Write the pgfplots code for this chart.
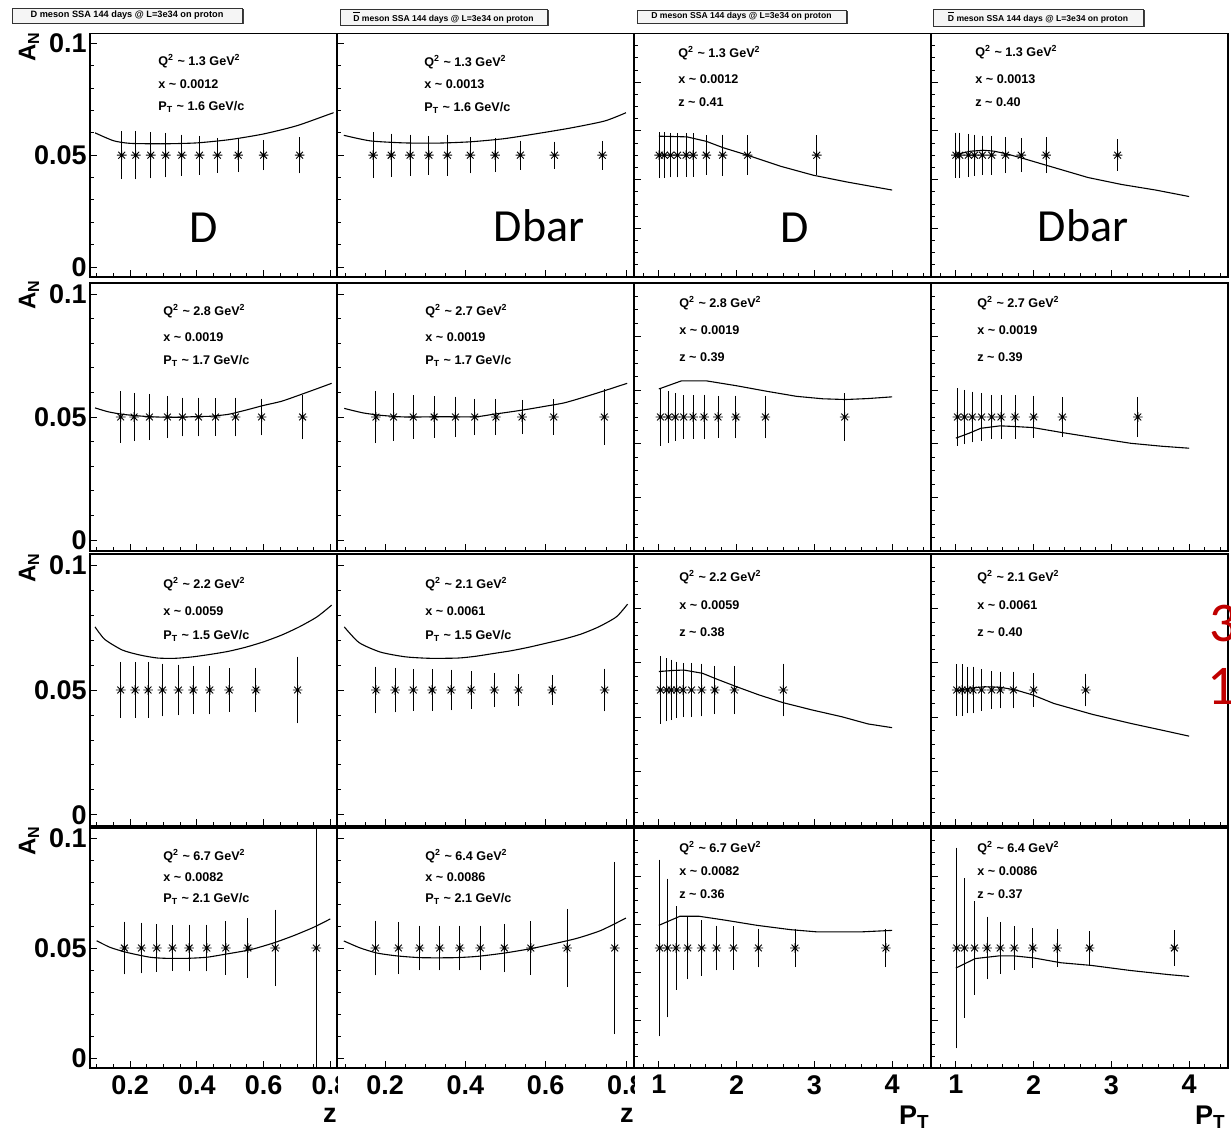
\documentclass[border=0pt]{standalone}
\usepackage{fontspec}
\setmainfont{Liberation Sans}
\newfontfamily\carlito{Carlito}
\usepackage{pgfplots}
\pgfplotsset{compat=1.18}
\definecolor{dred}{HTML}{C00000}

\pgfdeclareplotmark{rstar}{%
  \pgfpathmoveto{\pgfqpoint{-\pgfplotmarksize}{0pt}}\pgfpathlineto{\pgfqpoint{\pgfplotmarksize}{0pt}}%
  \pgfpathmoveto{\pgfqpoint{0pt}{-\pgfplotmarksize}}\pgfpathlineto{\pgfqpoint{0pt}{\pgfplotmarksize}}%
  \pgfpathmoveto{\pgfqpoint{-0.707\pgfplotmarksize}{-0.707\pgfplotmarksize}}\pgfpathlineto{\pgfqpoint{0.707\pgfplotmarksize}{0.707\pgfplotmarksize}}%
  \pgfpathmoveto{\pgfqpoint{-0.707\pgfplotmarksize}{0.707\pgfplotmarksize}}\pgfpathlineto{\pgfqpoint{0.707\pgfplotmarksize}{-0.707\pgfplotmarksize}}%
  \pgfusepathqstroke}

\pgfplotsset{
  panel/.style={scale only axis, anchor=south west, ymin=-0.0045, ymax=0.1045,
    tick pos=left, tick align=inside, axis line style={line width=0.55pt},
    tick style={black, line width=0.4pt}, major tick length=3.5pt, minor tick length=1.8pt,
    xticklabels={,,,,,,}, yticklabels={,,,,,,,}, scaled ticks=false, clip=true,
    ticklabel style={font=\fontsize{13.5}{13.5}\selectfont\bfseries}},
  zpanel/.style={panel, xmin=0.08, xmax=0.82, xtick={0.2,0.4,0.6,0.8},
    minor xtick={0.1,0.15,0.25,0.3,0.35,0.45,0.5,0.55,0.65,0.7,0.75},
    ytick={0,0.05,0.1}, minor ytick={0.01,0.02,0.03,0.04,0.06,0.07,0.08,0.09}},
  ppanel/.style={panel, xmin=0.68, xmax=4.5, xtick={1,2,3,4},
    minor xtick={0.8,1.2,1.4,1.6,1.8,2.2,2.4,2.6,2.8,3.2,3.4,3.6,3.8,4.2,4.4},
    ytick={-0.0045,0.0173,0.0391,0.0609,0.0827,0.1045},
    minor ytick={0.00095,0.0064,0.01185,0.02275,0.0282,0.03365,0.04455,0.05,0.05545,0.06635,0.0718,0.07725,0.08815,0.0936,0.09905}},
  curve/.style={black, line width=0.55pt, no marks},
  zcurve/.style={curve, smooth, tension=0.4},
  pts/.style={only marks, mark=rstar, mark size=2.4pt, black, mark options={line width=0.45pt},
    error bars/.cd, y dir=both, y explicit, error bar style={line width=0.45pt, black},
    error mark options={black, line width=0.45pt, mark size=1.4pt}},
  ylab/.style={yticklabels={\textbf{0},\textbf{0.05},\textbf{0.1}}, yticklabel style={anchor=east, inner sep=0pt, xshift=-1.5pt}},
  zlab/.style={xticklabels={\textbf{0.2},\textbf{0.4},\textbf{0.6},\textbf{0.8}}, xticklabel style={anchor=north, inner sep=0pt, yshift=-3.5pt}},
  plab/.style={xticklabels={\textbf{1},\textbf{2},\textbf{3},\textbf{4}}, xticklabel style={anchor=north, inner sep=0pt, yshift=-3.5pt}},
}

\newcommand\ptf{\fontsize{6.3}{7}\selectfont\bfseries}
\newcommand\qtxt[1]{Q\textsuperscript{2} \textasciitilde{} #1 GeV\textsuperscript{2}}
\newcommand\xtxt[1]{x \textasciitilde{} #1}
\newcommand\pttxt[1]{P\textsubscript{T} \textasciitilde{} #1 GeV/c}
\newcommand\ztxt[1]{z \textasciitilde{} #1}
\newcommand\tl[3]{\node[anchor=west, inner sep=0pt, font=\ptf] at (#1,#2) {#3};}
\newcommand\tbox[6]{%
  \fill[black!75] ({#1+1.5},{#2+1.5}) rectangle ({#3+1.5},{#4+1.5});
  \filldraw[fill=black!4, draw=black!80, line width=0.4pt] (#1,#2) rectangle (#3,#4);
  \node[font=\fontsize{#6}{#6}\selectfont\bfseries, inner sep=0pt] at ({(#1+#3)/2},{(#2+#4)/2}) {#5};}

\begin{document}
\begin{tikzpicture}
\useasboundingbox (0,0) rectangle (615.5pt,567.5pt);

% ================= Column 1 (D vs z) =================
\begin{scope}
\clip (0,0) rectangle (168.9pt,567.5pt);
\begin{axis}[zpanel, ylab, at={(45pt,429pt)}, width=123.5pt, height=121.8pt]
\addplot[zcurve] coordinates {(0.095,0.0600)(0.15,0.0565)(0.2,0.0553)(0.3,0.0551)(0.4,0.0555)(0.5,0.0570)(0.6,0.0595)(0.7,0.0632)(0.8,0.0685)(0.81,0.0690)};
\addplot[pts] table[x index=0,y index=1,y error index=2]{
0.175 0.05 0.0095
0.217 0.05 0.0096
0.262 0.05 0.0091
0.307 0.05 0.0087
0.355 0.05 0.0080
0.408 0.05 0.0074
0.462 0.05 0.0065
0.524 0.05 0.0063
0.600 0.05 0.0054
0.708 0.05 0.0069
};
\end{axis}
\begin{axis}[zpanel, ylab, at={(45pt,292pt)}, width=123.5pt, height=134pt]
\addplot[zcurve] coordinates {(0.095,0.0537)(0.135,0.0521)(0.177,0.0511)(0.23,0.0504)(0.28,0.0500)(0.35,0.0499)(0.40,0.0502)(0.44,0.0503)(0.495,0.0511)(0.55,0.0529)(0.6,0.0547)(0.654,0.0564)(0.707,0.0589)(0.76,0.0615)(0.804,0.0637)};
\addplot[pts] table[x index=0,y index=1,y error index=2]{
0.172 0.05 0.0093
0.212 0.05 0.0087
0.258 0.05 0.0083
0.312 0.05 0.0075
0.357 0.05 0.0067
0.405 0.05 0.0067
0.456 0.05 0.0064
0.516 0.05 0.0067
0.594 0.05 0.0063
0.717 0.05 0.0080
};
\end{axis}
\begin{axis}[zpanel, ylab, at={(45pt,154.5pt)}, width=123.5pt, height=136pt]
\addplot[zcurve] coordinates {(0.095,0.0753)(0.124,0.0703)(0.177,0.0660)(0.23,0.0640)(0.283,0.0628)(0.336,0.0627)(0.389,0.0633)(0.442,0.0643)(0.495,0.0655)(0.548,0.0672)(0.6,0.0693)(0.654,0.0720)(0.707,0.0753)(0.76,0.0793)(0.804,0.0840)};
\addplot[pts] table[x index=0,y index=1,y error index=2]{
0.172 0.05 0.0101
0.215 0.05 0.0100
0.254 0.05 0.0101
0.297 0.05 0.0094
0.345 0.05 0.0090
0.389 0.05 0.0085
0.439 0.05 0.0086
0.497 0.05 0.0076
0.577 0.05 0.0078
0.702 0.05 0.0123
};
\end{axis}
\begin{axis}[zpanel, ylab, zlab, at={(45pt,33.5pt)}, width=123.5pt, height=120pt]
\addplot[zcurve] coordinates {(0.1,0.0533)(0.14,0.0503)(0.19,0.0480)(0.26,0.0458)(0.31,0.0453)(0.37,0.0453)(0.43,0.0458)(0.49,0.0473)(0.56,0.0492)(0.63,0.0523)(0.69,0.0556)(0.75,0.0594)(0.80,0.0632)};
\addplot[pts] table[x index=0,y index=1,y error index=2]{
0.183 0.05 0.0107
0.234 0.05 0.0103
0.280 0.05 0.0096
0.327 0.05 0.0090
0.377 0.05 0.0093
0.430 0.05 0.0093
0.487 0.05 0.0108
0.553 0.05 0.0122
0.635 0.05 0.0161
0.758 0.05 0.0800
};
\end{axis}
\end{scope}

% ================= Column 2 (Dbar vs z) =================
\begin{scope}
\clip (168.2pt,0) rectangle (317.3pt,567.5pt);
\begin{axis}[zpanel, at={(168.5pt,429pt)}, width=148.5pt, height=121.8pt]
\addplot[zcurve] coordinates {(0.097,0.0589)(0.163,0.0564)(0.247,0.0555)(0.33,0.0554)(0.413,0.0560)(0.497,0.0574)(0.58,0.0597)(0.663,0.0622)(0.747,0.0653)(0.80,0.0690)};
\addplot[pts] table[x index=0,y index=1,y error index=2]{
0.170 0.05 0.0090
0.215 0.05 0.0084
0.262 0.05 0.0079
0.309 0.05 0.0074
0.355 0.05 0.0079
0.412 0.05 0.0069
0.474 0.05 0.0063
0.537 0.05 0.0053
0.622 0.05 0.0048
0.741 0.05 0.0052
};
\end{axis}
\begin{axis}[zpanel, at={(168.5pt,292pt)}, width=148.5pt, height=134pt]
\addplot[zcurve] coordinates {(0.098,0.0535)(0.144,0.0517)(0.188,0.0507)(0.25,0.0500)(0.337,0.0501)(0.425,0.0501)(0.469,0.0511)(0.513,0.0521)(0.557,0.0532)(0.6,0.0544)(0.645,0.0557)(0.688,0.0577)(0.741,0.0604)(0.803,0.0637)};
\addplot[pts] table[x index=0,y index=1,y error index=2]{
0.177 0.05 0.0095
0.221 0.05 0.0085
0.270 0.05 0.0077
0.322 0.05 0.0073
0.375 0.05 0.0071
0.423 0.05 0.0062
0.476 0.05 0.0062
0.541 0.05 0.0058
0.620 0.05 0.0060
0.746 0.05 0.0101
};
\end{axis}
\begin{axis}[zpanel, at={(168.5pt,154.5pt)}, width=148.5pt, height=136pt]
\addplot[zcurve] coordinates {(0.098,0.0753)(0.135,0.0690)(0.188,0.0652)(0.25,0.0633)(0.311,0.0627)(0.381,0.0628)(0.425,0.0635)(0.469,0.0646)(0.513,0.0657)(0.557,0.0671)(0.6,0.0687)(0.645,0.0704)(0.688,0.0724)(0.732,0.0753)(0.776,0.0793)(0.804,0.0844)};
\addplot[pts] table[x index=0,y index=1,y error index=2]{
0.177 0.05 0.0082
0.225 0.05 0.0078
0.270 0.05 0.0072
0.317 0.05 0.0072
0.364 0.05 0.0070
0.414 0.05 0.0064
0.472 0.05 0.0057
0.532 0.05 0.0052
0.616 0.05 0.0048
0.747 0.05 0.0074
};
\end{axis}
\begin{axis}[zpanel, zlab, at={(168.5pt,33.5pt)}, width=148.5pt, height=120pt]
\addplot[zcurve] coordinates {(0.097,0.0532)(0.138,0.0500)(0.18,0.0477)(0.23,0.0464)(0.29,0.0456)(0.372,0.0456)(0.43,0.0462)(0.497,0.0477)(0.563,0.0497)(0.622,0.0520)(0.68,0.0545)(0.738,0.0580)(0.80,0.0636)};
\addplot[pts] table[x index=0,y index=1,y error index=2]{
0.176 0.05 0.0112
0.233 0.05 0.0106
0.286 0.05 0.0089
0.336 0.05 0.0089
0.386 0.05 0.0089
0.437 0.05 0.0089
0.497 0.05 0.0097
0.563 0.05 0.0108
0.653 0.05 0.0165
0.772 0.05 0.0378
};
\end{axis}
\end{scope}

% ================= Column 3 (D vs PT) =================
\begin{scope}
\clip (316.7pt,0) rectangle (465.8pt,567.5pt);
\begin{axis}[ppanel, at={(317pt,429pt)}, width=148.5pt, height=121.8pt]
\addplot[curve] coordinates {(1.0,0.0585)(1.36,0.0582)(1.61,0.0562)(1.83,0.0533)(2.14,0.0500)(2.56,0.0451)(2.99,0.0410)(3.42,0.0380)(4.0,0.0344)};
\addplot[pts] table[x index=0,y index=1,y error index=2]{
1.004 0.05 0.0090
1.069 0.05 0.0090
1.150 0.05 0.0087
1.240 0.05 0.0087
1.350 0.05 0.0085
1.440 0.05 0.0085
1.610 0.05 0.0076
1.820 0.05 0.0079
2.140 0.05 0.0076
3.030 0.05 0.0076
};
\end{axis}
\begin{axis}[ppanel, at={(317pt,292pt)}, width=148.5pt, height=134pt]
\addplot[curve] coordinates {(1.0,0.0614)(1.29,0.0647)(1.61,0.0647)(2.0,0.0627)(2.38,0.0605)(2.77,0.0584)(3.11,0.0574)(3.4,0.0571)(3.69,0.0575)(4.0,0.0582)};
\addplot[pts] table[x index=0,y index=1,y error index=2]{
1.02 0.05 0.0105
1.12 0.05 0.0094
1.21 0.05 0.0085
1.32 0.05 0.0077
1.44 0.05 0.0077
1.58 0.05 0.0080
1.76 0.05 0.0074
1.99 0.05 0.0076
2.37 0.05 0.0076
3.39 0.05 0.0085
};
\end{axis}
\begin{axis}[ppanel, at={(317pt,154.5pt)}, width=148.5pt, height=136pt]
\addplot[curve] coordinates {(1.0,0.0574)(1.17,0.0578)(1.32,0.0580)(1.56,0.0567)(1.75,0.0543)(2.0,0.0513)(2.29,0.0480)(2.6,0.0449)(2.97,0.0420)(3.35,0.0393)(3.69,0.0364)(4.0,0.0349)};
\addplot[pts] table[x index=0,y index=1,y error index=2]{
1.02 0.05 0.0124
1.10 0.05 0.0115
1.16 0.05 0.0110
1.23 0.05 0.0102
1.31 0.05 0.0097
1.42 0.05 0.0097
1.55 0.05 0.0094
1.72 0.05 0.0085
1.97 0.05 0.0085
2.60 0.05 0.0094
};
\end{axis}
\begin{axis}[ppanel, plab, at={(317pt,33.5pt)}, width=148.5pt, height=120pt]
\addplot[curve] coordinates {(1.0,0.0603)(1.27,0.0644)(1.52,0.0644)(1.86,0.0626)(2.26,0.0603)(2.70,0.0583)(3.04,0.0573)(3.59,0.0573)(4.0,0.0580)};
\addplot[pts] table[x index=0,y index=1,y error index=2]{
1.01 0.05 0.0389
1.11 0.05 0.0302
1.22 0.05 0.0178
1.37 0.05 0.0130
1.55 0.05 0.0113
1.74 0.05 0.0089
1.96 0.05 0.0085
2.28 0.05 0.0075
2.75 0.05 0.0074
3.92 0.05 0.0074
};
\end{axis}
\end{scope}

% ================= Column 4 (Dbar vs PT) =================
\begin{axis}[ppanel, at={(465.5pt,429pt)}, width=148.5pt, height=121.8pt]
\addplot[curve] coordinates {(1.0,0.0503)(1.19,0.0518)(1.36,0.0522)(1.49,0.0518)(1.64,0.0507)(1.84,0.0488)(2.27,0.0444)(2.7,0.0400)(3.13,0.0369)(3.57,0.0344)(4.0,0.0315)};
\addplot[pts] table[x index=0,y index=1,y error index=2]{
1.00 0.05 0.0088
1.05 0.05 0.0088
1.16 0.05 0.0083
1.24 0.05 0.0080
1.34 0.05 0.0075
1.46 0.05 0.0074
1.64 0.05 0.0068
1.84 0.05 0.0063
2.16 0.05 0.0068
3.08 0.05 0.0058
};
\end{axis}
\begin{axis}[ppanel, at={(465.5pt,292pt)}, width=148.5pt, height=134pt]
\addplot[curve] coordinates {(1.0,0.0414)(1.17,0.0434)(1.32,0.0454)(1.57,0.0464)(1.77,0.0461)(1.99,0.0457)(2.36,0.0437)(2.76,0.0417)(3.25,0.0393)(3.65,0.0381)(4.0,0.0373)};
\addplot[pts] table[x index=0,y index=1,y error index=2]{
1.02 0.05 0.0106
1.11 0.05 0.0099
1.21 0.05 0.0092
1.33 0.05 0.0085
1.46 0.05 0.0077
1.58 0.05 0.0077
1.76 0.05 0.0077
2.00 0.05 0.0074
2.37 0.05 0.0068
3.34 0.05 0.0070
};
\end{axis}
\begin{axis}[ppanel, at={(465.5pt,154.5pt)}, width=148.5pt, height=136pt]
\addplot[curve] coordinates {(1.0,0.0496)(1.17,0.0507)(1.37,0.0513)(1.57,0.0511)(1.77,0.0500)(1.99,0.0480)(2.26,0.0446)(2.76,0.0402)(3.25,0.0366)(3.65,0.0339)(4.0,0.0315)};
\addplot[pts] table[x index=0,y index=1,y error index=2]{
1.01 0.05 0.0092
1.08 0.05 0.0092
1.15 0.05 0.0082
1.22 0.05 0.0082
1.33 0.05 0.0072
1.46 0.05 0.0065
1.57 0.05 0.0062
1.74 0.05 0.0062
2.00 0.05 0.0056
2.67 0.05 0.0054
};
\end{axis}
\begin{axis}[ppanel, plab, at={(465.5pt,33.5pt)}, width=148.5pt, height=120pt]
\addplot[curve] coordinates {(1.0,0.0409)(1.25,0.0452)(1.55,0.0464)(1.75,0.0464)(2.0,0.0455)(2.35,0.0433)(2.74,0.0421)(3.24,0.0398)(3.74,0.0379)(4.0,0.0371)};
\addplot[pts] table[x index=0,y index=1,y error index=2]{
1.01 0.05 0.0443
1.11 0.05 0.0305
1.24 0.05 0.0200
1.40 0.05 0.0130
1.57 0.05 0.0104
1.75 0.05 0.0085
1.99 0.05 0.0076
2.30 0.05 0.0074
2.72 0.05 0.0063
3.81 0.05 0.0068
};
\end{axis}

% ================= Annotations (image pixel coordinates) =================
\begin{scope}[x=0.5pt, y=-0.5pt, yshift=567.5pt]
% title boxes
\tbox{12}{8}{242}{23}{D meson SSA 144 days @ L=3e34 on proton}{4.6}
\tbox{340}{9}{547}{25}{$\overline{\mbox{D}}$ meson SSA 144 days @ L=3e34 on proton}{4.3}
\tbox{637}{10}{846}{23}{D meson SSA 144 days @ L=3e34 on proton}{4.3}
\tbox{933}{9}{1143}{26}{$\overline{\mbox{D}}$ meson SSA 144 days @ L=3e34 on proton}{4.3}
% y axis titles
\foreach \yy in {47,295,568,841}{
  \node[rotate=90, inner sep=0pt, font=\fontsize{12}{12}\selectfont\bfseries] at (29,\yy) {A\textsubscript{N}};
}
% x axis titles
\node[anchor=east, inner sep=0pt, font=\fontsize{13.5}{13.5}\selectfont\bfseries] at (337,1115) {z};
\node[anchor=east, inner sep=0pt, font=\fontsize{13.5}{13.5}\selectfont\bfseries] at (634,1115) {z};
\node[anchor=east, inner sep=0pt, font=\fontsize{13.5}{13.5}\selectfont\bfseries] at (930,1117) {P\textsubscript{T}};
\node[anchor=east, inner sep=0pt, font=\fontsize{13.5}{13.5}\selectfont\bfseries] at (1226,1117) {P\textsubscript{T}};
% panel texts row 1
\tl{158}{61}{\qtxt{1.3}} \tl{158}{84}{\xtxt{0.0012}} \tl{158}{107}{\pttxt{1.6}}
\tl{424}{62}{\qtxt{1.3}} \tl{424}{84}{\xtxt{0.0013}} \tl{424}{108}{\pttxt{1.6}}
\tl{678}{53}{\qtxt{1.3}} \tl{678}{79}{\xtxt{0.0012}} \tl{678}{102}{\ztxt{0.41}}
\tl{975}{52}{\qtxt{1.3}} \tl{975}{79}{\xtxt{0.0013}} \tl{975}{102}{\ztxt{0.40}}
% row 2
\tl{163}{311}{\qtxt{2.8}} \tl{163}{337}{\xtxt{0.0019}} \tl{163}{361}{\pttxt{1.7}}
\tl{425}{311}{\qtxt{2.7}} \tl{425}{337}{\xtxt{0.0019}} \tl{425}{361}{\pttxt{1.7}}
\tl{679}{303}{\qtxt{2.8}} \tl{679}{330}{\xtxt{0.0019}} \tl{679}{357}{\ztxt{0.39}}
\tl{977}{303}{\qtxt{2.7}} \tl{977}{330}{\xtxt{0.0019}} \tl{977}{357}{\ztxt{0.39}}
% row 3
\tl{163}{584}{\qtxt{2.2}} \tl{163}{611}{\xtxt{0.0059}} \tl{163}{636}{\pttxt{1.5}}
\tl{425}{584}{\qtxt{2.1}} \tl{425}{611}{\xtxt{0.0061}} \tl{425}{636}{\pttxt{1.5}}
\tl{679}{577}{\qtxt{2.2}} \tl{679}{605}{\xtxt{0.0059}} \tl{679}{632}{\ztxt{0.38}}
\tl{977}{577}{\qtxt{2.1}} \tl{977}{605}{\xtxt{0.0061}} \tl{977}{632}{\ztxt{0.40}}
% row 4
\tl{163}{856}{\qtxt{6.7}} \tl{163}{877}{\xtxt{0.0082}} \tl{163}{899}{\pttxt{2.1}}
\tl{425}{856}{\qtxt{6.4}} \tl{425}{877}{\xtxt{0.0086}} \tl{425}{899}{\pttxt{2.1}}
\tl{679}{848}{\qtxt{6.7}} \tl{679}{871}{\xtxt{0.0082}} \tl{679}{894}{\ztxt{0.36}}
\tl{977}{848}{\qtxt{6.4}} \tl{977}{871}{\xtxt{0.0086}} \tl{977}{894}{\ztxt{0.37}}
% big labels
\node[font=\carlito\fontsize{23}{23}\selectfont, inner sep=0pt] at (204,228) {D};
\node[font=\carlito\fontsize{23}{23}\selectfont, inner sep=0pt] at (539,226) {Dbar};
\node[font=\carlito\fontsize{23}{23}\selectfont, inner sep=0pt] at (795,228) {D};
\node[font=\carlito\fontsize{23}{23}\selectfont, inner sep=0pt] at (1083,226) {Dbar};
% slide numbers (cut by the edge)
\begin{scope}
\clip (0,0) rectangle (1231,1135);
\node[anchor=west, inner sep=0pt, text=dred, font=\carlito\fontsize{28}{28}\selectfont] at (1209,624) {3};
\node[anchor=west, inner sep=0pt, text=dred, font=\carlito\fontsize{28}{28}\selectfont] at (1207,686) {1};
\end{scope}
\end{scope}
\end{tikzpicture}
\end{document}
